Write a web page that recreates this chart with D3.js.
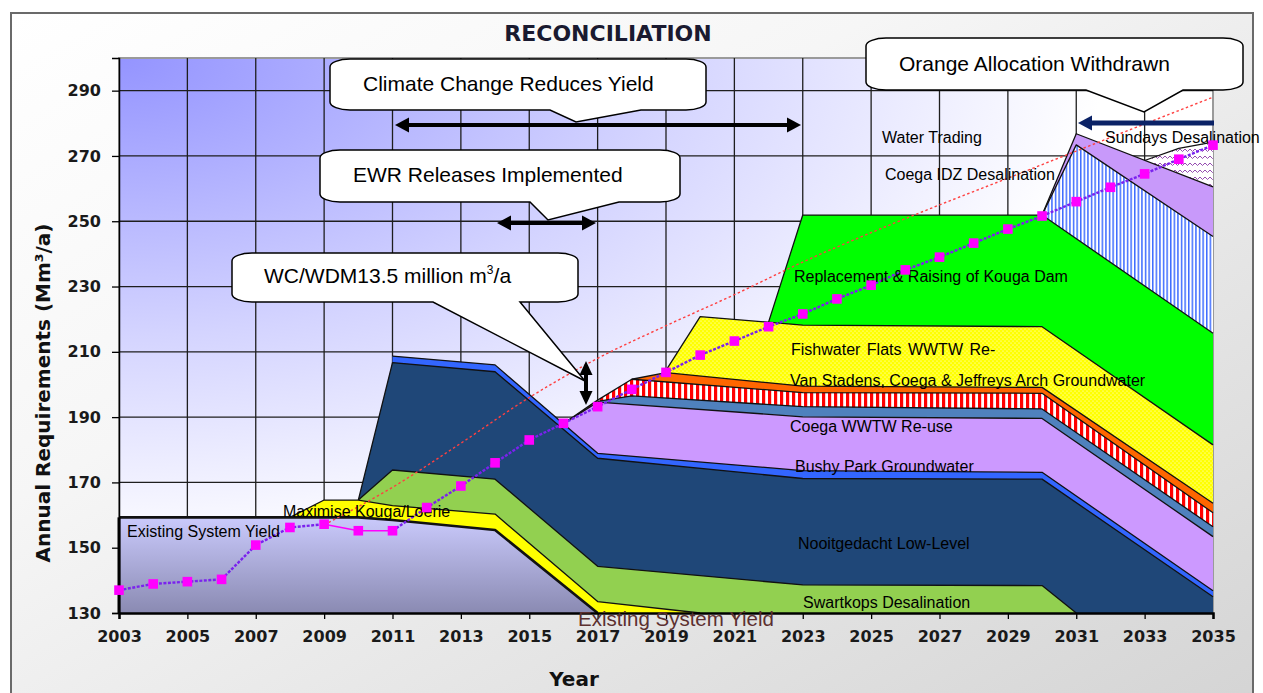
<!DOCTYPE html>
<html lang="en">
<head>
<meta charset="UTF-8">
<title>Reconciliation</title>
<script src="https://d3js.org/d3.v7.min.js"></script>
<style>
  body { margin: 0; background: #fff; }
  svg { display: block; }
  .axis text { font-family: "DejaVu Sans", Verdana, sans-serif; font-weight: bold; font-size: 16px; fill: #1a1a1a; }
  .axis path, .axis line { stroke: #000; }
  .lbl { font-family: "Liberation Sans", Arial, sans-serif; font-size: 16px; fill: #000; }
  .callout text { font-family: "Liberation Sans", Arial, sans-serif; font-size: 21px; fill: #000; }
</style>
</head>
<body>
<svg id="chart" width="1263" height="693"></svg>
<script>
    // tick labels
    const xTicks = [2003, 2005, 2007, 2009, 2011, 2013, 2015, 2017, 2019, 2021, 2023, 2025, 2027, 2029, 2031, 2033, 2035];
    const yTicks = [130, 150, 170, 190, 210, 230, 250, 270, 290];

    // water requirement (demand) projection
    const demandYears = [2003, 2004, 2005, 2006, 2007, 2008, 2009, 2010, 2011, 2012, 2013, 2014, 2015, 2016, 2017, 2018, 2019,
        2020, 2021, 2022, 2023, 2024, 2025, 2026, 2027, 2028, 2029, 2030, 2031, 2032, 2033, 2034, 2035];
    const demandValues = [137.0, 138.9, 139.6, 140.3, 150.8, 156.2, 157.2, 155.2, 155.2, 162.3, 168.9, 176.0, 183.0, 188.1, 193.2, 198.5, 203.7,
        209.0, 213.3, 217.7, 221.6, 226.2, 230.4, 235.1, 239.0, 243.3, 247.6, 251.6, 256.0, 260.4, 264.5, 269.0, 273.3];

    // unconstrained trend (red dotted)
    const trendYears = [2009, 2011, 2013, 2015, 2017, 2019, 2021, 2023, 2025, 2027, 2029, 2031, 2033, 2035];
    const trendValues = [157, 168.5, 182, 196, 208, 218, 227.5, 237.5, 246.5, 255, 263.2, 271.5, 279.8, 288];

    // supply layers: [year, cumulative top of layer]
    const existingYield = [[2003, 159.3], [2010, 159.3], [2011, 158.5], [2014, 155.4], [2017, 130]];
    const maximiseKouga = [[2008, 159.3], [2009, 164.6], [2010, 164.6], [2011, 162.9], [2014, 160.3], [2017, 133.5], [2020, 130]];
    const swartkopsDesal = [[2010, 164.6], [2011, 173.8], [2014, 171.0], [2017, 144.3], [2023, 138.6], [2030, 138.4], [2031, 130]];
    const nooitgedacht = [[2010, 164.6], [2011, 206.7], [2014, 203.9], [2017, 177.4], [2023, 171.2], [2030, 171.0], [2035, 135.0]];
    const bushyParkGw = [[2011, 208.7], [2014, 206.0], [2017, 178.9], [2023, 173.6], [2030, 173.1], [2035, 136.8]];
    const coegaWwtwReuse = [[2016, 188.0], [2017, 194.6], [2023, 190.1], [2030, 189.6], [2035, 153.4]];
    const steelBand = [[2017, 194.8], [2018, 196.5], [2023, 193.2], [2030, 192.5], [2035, 156.4]];
    const redStripeBand = [[2016, 188.0], [2017, 195.2], [2018, 201.6], [2023, 197.5], [2030, 197.3], [2035, 160.7]];
    const vanStadensGw = [[2018, 201.6], [2019, 203.6], [2023, 199.5], [2030, 199.1], [2035, 163.6]];
    const fishwaterFlats = [[2019, 204.3], [2020, 220.8], [2023, 218.2], [2030, 217.7], [2035, 181.5]];
    const kougaDamRaising = [[2022, 219.1], [2023, 251.9], [2030, 251.9], [2035, 215.7]];
    const coegaIdzDesal = [[2030, 251.9], [2031, 273.4], [2035, 245.3]];
    const waterTrading = [[2030, 251.9], [2031, 276.8], [2035, 260.5]];
    const sundaysDesal = [[2033, 268.6], [2034, 272.3], [2035, 274.2]];

    const margin = { top: 58, right: 50, bottom: 80, left: 119 },
        width = 1094,
        height = 555;

    const svg = d3.select("#chart");
    const defs = svg.append("defs");

    // backgrounds
    const outerGrad = defs.append("linearGradient").attr("id", "outerGrad")
        .attr("x1", 0).attr("y1", 0).attr("x2", 1).attr("y2", 1);
    outerGrad.append("stop").attr("offset", 0).attr("stop-color", "#ffffff");
    outerGrad.append("stop").attr("offset", 0.35).attr("stop-color", "#f6f6f6");
    outerGrad.append("stop").attr("offset", 1).attr("stop-color", "#d4d4d4");

    const plotGrad = defs.append("radialGradient").attr("id", "plotGrad")
        .attr("cx", 0).attr("cy", 0).attr("r", 1).attr("fx", 0).attr("fy", 0);
    plotGrad.append("stop").attr("offset", 0).attr("stop-color", "#9494ff");
    plotGrad.append("stop").attr("offset", 0.5).attr("stop-color", "#d4d4ff");
    plotGrad.append("stop").attr("offset", 0.9).attr("stop-color", "#ffffff");

    const existGrad = defs.append("linearGradient").attr("id", "existGrad")
        .attr("x1", 0).attr("y1", 0).attr("x2", 0).attr("y2", 1);
    existGrad.append("stop").attr("offset", 0).attr("stop-color", "#cacafc");
    existGrad.append("stop").attr("offset", 1).attr("stop-color", "#8a8ab2");

    // fill patterns
    const dots = defs.append("pattern").attr("id", "yellowDots").attr("patternUnits", "userSpaceOnUse")
        .attr("width", 4).attr("height", 4);
    dots.append("rect").attr("width", 4).attr("height", 4).attr("fill", "#ffff00");
    dots.append("circle").attr("cx", 1).attr("cy", 1).attr("r", 0.6).attr("fill", "#ffffff");
    dots.append("circle").attr("cx", 3).attr("cy", 3).attr("r", 0.6).attr("fill", "#ffffff");

    const redS = defs.append("pattern").attr("id", "redStripes").attr("patternUnits", "userSpaceOnUse")
        .attr("width", 6).attr("height", 10);
    redS.append("rect").attr("width", 6).attr("height", 10).attr("fill", "#ffffff");
    redS.append("rect").attr("width", 3.2).attr("height", 10).attr("fill", "#ff0000");

    const blueS = defs.append("pattern").attr("id", "blueStripes").attr("patternUnits", "userSpaceOnUse")
        .attr("width", 3.6).attr("height", 10);
    blueS.append("rect").attr("width", 3.6).attr("height", 10).attr("fill", "#ffffff");
    blueS.append("rect").attr("width", 1.5).attr("height", 10).attr("fill", "#3d6bff");

    const wavy = defs.append("pattern").attr("id", "wavy").attr("patternUnits", "userSpaceOnUse")
        .attr("width", 10).attr("height", 7);
    wavy.append("rect").attr("width", 10).attr("height", 7).attr("fill", "#ffffff");
    wavy.append("path").attr("d", "M0,2 L2.5,4.5 L5,2 L7.5,4.5 L10,2")
        .attr("fill", "none").attr("stroke", "#8a3aa8").attr("stroke-width", 0.9);

    svg.append("rect").attr("x", 11).attr("y", 13).attr("width", 1242).attr("height", 700)
        .attr("fill", "url(#outerGrad)").attr("stroke", "#6a6a6a").attr("stroke-width", 2);

    const x = d3.scaleLinear().domain([2003, 2035]).range([margin.left, margin.left + width]);
    const y = d3.scaleLinear().domain([130, 300]).range([margin.top + height, margin.top]);

    svg.append("rect").attr("x", margin.left).attr("y", margin.top)
        .attr("width", width).attr("height", height)
        .attr("fill", "url(#plotGrad)").attr("stroke", "#9a9a9a").attr("stroke-width", 2);

    // grid
    svg.append("g").selectAll("line").data(xTicks.filter(d => d > 2003 && d < 2035)).join("line")
        .attr("x1", d => x(d)).attr("x2", d => x(d))
        .attr("y1", margin.top).attr("y2", margin.top + height)
        .attr("stroke", "#1e1e1e").attr("stroke-width", 1.3);
    svg.append("g").selectAll("line").data(yTicks.filter(d => d > 130)).join("line")
        .attr("x1", margin.left).attr("x2", margin.left + width)
        .attr("y1", d => y(d)).attr("y2", d => y(d))
        .attr("stroke", "#1e1e1e").attr("stroke-width", 1.3);

    // stacked supply layers, painted from top layer down
    const layers = [
        { data: sundaysDesal, fill: "url(#wavy)" },
        { data: waterTrading, fill: "#c899fa" },
        { data: coegaIdzDesal, fill: "url(#blueStripes)" },
        { data: kougaDamRaising, fill: "#00ff00" },
        { data: fishwaterFlats, fill: "url(#yellowDots)" },
        { data: vanStadensGw, fill: "#ff6600" },
        { data: redStripeBand, fill: "url(#redStripes)" },
        { data: steelBand, fill: "#4f81bd" },
        { data: coegaWwtwReuse, fill: "#cc99ff" },
        { data: bushyParkGw, fill: "#3366ff" },
        { data: nooitgedacht, fill: "#1f4778" },
        { data: swartkopsDesal, fill: "#92d050" },
        { data: maximiseKouga, fill: "#ffff00" },
        { data: existingYield, fill: "url(#existGrad)", sw: 2.6 }
    ];

    const area = d3.area().x(d => x(d[0])).y0(y(130)).y1(d => y(d[1]));
    const topLine = d3.line().x(d => x(d[0])).y(d => y(d[1]));

    const layerG = svg.append("g");
    layers.forEach(l => {
        layerG.append("path").attr("d", area(l.data)).attr("fill", l.fill);
        layerG.append("path").attr("d", topLine(l.data)).attr("fill", "none")
            .attr("stroke", "#111").attr("stroke-width", l.sw || 1.3).attr("stroke-linejoin", "round");
    });
    // left edge of the existing yield block
    layerG.append("line")
        .attr("x1", x(2003)).attr("x2", x(2003))
        .attr("y1", y(130)).attr("y2", y(existingYield[0][1]))
        .attr("stroke", "#000").attr("stroke-width", 3);

    // axes
    const xAxis = d3.axisBottom(x).tickValues(xTicks).tickFormat(d3.format("d")).tickSize(6).tickPadding(12);
    const yAxis = d3.axisLeft(y).tickValues(yTicks).tickSize(7).tickPadding(11);

    svg.append("g").attr("class", "axis")
        .attr("transform", "translate(0," + (margin.top + height) + ")")
        .call(xAxis)
        .call(g => g.select(".domain").attr("stroke-width", 2.5))
        .call(g => g.selectAll(".tick line").attr("stroke-width", 1.3));

    svg.append("g").attr("class", "axis")
        .attr("transform", "translate(" + margin.left + ",0)")
        .call(yAxis)
        .call(g => g.select(".domain").attr("stroke-width", 1.5))
        .call(g => g.selectAll(".tick line").attr("stroke-width", 1.3));

    // red dotted trend
    svg.append("path")
        .datum(trendYears.map((d, i) => [d, trendValues[i]]))
        .attr("d", d3.line().curve(d3.curveMonotoneX).x(d => x(d[0])).y(d => y(d[1])))
        .attr("fill", "none").attr("stroke", "#ff4040").attr("stroke-width", 1.4)
        .attr("stroke-dasharray", "2.5,2.5");

    // demand line with markers
    const demand = demandYears.map((d, i) => [d, demandValues[i]]);
    const demandLine = d3.line().x(d => x(d[0])).y(d => y(d[1]));
    const i2009 = demandYears.indexOf(2009), i2011 = demandYears.indexOf(2011);
    svg.append("path").attr("d", demandLine(demand.slice(0, i2009 + 1)))
        .attr("fill", "none").attr("stroke", "#7a22ee").attr("stroke-width", 2.4).attr("stroke-dasharray", "3,1.5");
    svg.append("path").attr("d", demandLine(demand.slice(i2009, i2011 + 1)))
        .attr("fill", "none").attr("stroke", "#ff00ff").attr("stroke-width", 1.4);
    svg.append("path").attr("d", demandLine(demand.slice(i2011)))
        .attr("fill", "none").attr("stroke", "#7a22ee").attr("stroke-width", 2.4).attr("stroke-dasharray", "3,1.5");

    // layer labels
    const labels = [
        ["Existing System Yield", 127, 537],
        ["Maximise Kouga/Loerie", 283, 517],
        ["Replacement & Raising of Kouga Dam", 794, 282],
        ["Fishwater Flats WWTW Re-", 791, 355],
        ["Van Stadens, Coega & Jeffreys Arch Groundwater", 790, 386],
        ["Coega WWTW Re-use", 790, 432],
        ["Bushy Park Groundwater", 795, 472],
        ["Nooitgedacht Low-Level", 798, 549],
        ["Swartkops Desalination", 803, 608],
        ["Water Trading", 882, 143],
        ["Coega IDZ Desalination", 885, 180],
        ["Sundays Desalination", 1105, 143]
    ];
    svg.append("g").selectAll("text").data(labels).join("text")
        .attr("class", "lbl")
        .attr("x", d => d[1]).attr("y", d => d[2])
        .style("word-spacing", d => d[0].startsWith("Fishwater") ? "2px" : null)
        .text(d => d[0]);

    svg.append("g").selectAll("rect").data(demand).join("rect")
        .attr("x", d => x(d[0]) - 4.8).attr("y", d => y(d[1]) - 4.8)
        .attr("width", 9.6).attr("height", 9.6).attr("fill", "#ff00ff");

    // callouts
    function callout(x0, y0, x1, y1, b1, b2, tx, ty) {
        const rx = 20, ry = 8;
        return `M${x0 + rx},${y0} L${x1 - rx},${y0} A${rx},${ry} 0 0 1 ${x1},${y0 + ry} L${x1},${y1 - ry} ` +
            `A${rx},${ry} 0 0 1 ${x1 - rx},${y1} L${b2},${y1} L${tx},${ty} L${b1},${y1} L${x0 + rx},${y1} ` +
            `A${rx},${ry} 0 0 1 ${x0},${y1 - ry} L${x0},${y0 + ry} A${rx},${ry} 0 0 1 ${x0 + rx},${y0} Z`;
    }
    const calloutG = svg.append("g").attr("class", "callout");
    const boxes = [
        [330, 59, 706, 110, 550, 641, 576, 122],
        [320, 150, 680, 202, 530, 619, 548, 220],
        [232, 253, 578, 302, 433, 520, 585, 381],
        [866, 38, 1243, 90, 1086, 1183, 1144, 112]
    ];
    boxes.forEach(b => {
        calloutG.append("path").attr("d", callout(...b))
            .attr("fill", "#fff").attr("stroke", "#000").attr("stroke-width", 1.5);
    });
    calloutG.append("text").attr("x", 363).attr("y", 91).text("Climate Change Reduces Yield");
    calloutG.append("text").attr("x", 353).attr("y", 182).text("EWR Releases Implemented");
    const wc = calloutG.append("text").attr("x", 264).attr("y", 283);
    wc.append("tspan").text("WC/WDM13.5 million m");
    wc.append("tspan").attr("dy", -9).style("font-size", "12px").text("3");
    wc.append("tspan").attr("dy", 9).text("/a");
    calloutG.append("text").attr("x", 899).attr("y", 71).text("Orange Allocation Withdrawn");

    // arrows
    function hArrow(x0, x1, yy, color, both, w) {
        const g = svg.append("g");
        const h = 14, hw = 7.5;
        g.append("line").attr("x1", x0 + h - 2).attr("x2", both ? x1 - h + 2 : x1)
            .attr("y1", yy).attr("y2", yy).attr("stroke", color).attr("stroke-width", w);
        g.append("path").attr("d", `M${x0},${yy} L${x0 + h},${yy - hw} L${x0 + h},${yy + hw} Z`).attr("fill", color);
        if (both) g.append("path").attr("d", `M${x1},${yy} L${x1 - h},${yy - hw} L${x1 - h},${yy + hw} Z`).attr("fill", color);
    }
    hArrow(395, 801, 125, "#000", true, 4);
    hArrow(497, 596, 223, "#000", true, 4);
    hArrow(1078, 1214, 123, "#0b2266", false, 5);

    const vx = 586, vy0 = 361, vy1 = 405;
    svg.append("line").attr("x1", vx).attr("x2", vx).attr("y1", vy0 + 12).attr("y2", vy1 - 12)
        .attr("stroke", "#000").attr("stroke-width", 4);
    svg.append("path").attr("d", `M${vx},${vy0} L${vx - 6.5},${vy0 + 14} L${vx + 6.5},${vy0 + 14} Z`).attr("fill", "#000");
    svg.append("path").attr("d", `M${vx},${vy1} L${vx - 6.5},${vy1 - 14} L${vx + 6.5},${vy1 - 14} Z`).attr("fill", "#000");

    // titles
    svg.append("text")
        .attr("x", 608).attr("y", 41)
        .style("text-anchor", "middle")
        .style("font-family", "'DejaVu Sans', Verdana, sans-serif")
        .style("font-weight", "bold").style("font-size", "22px").style("fill", "#1a1a30")
        .text("RECONCILIATION");

    svg.append("text")
        .attr("transform", "translate(50,393) rotate(-90)")
        .style("text-anchor", "middle")
        .style("font-family", "'DejaVu Sans', Verdana, sans-serif")
        .style("font-weight", "bold").style("font-size", "20px").style("fill", "#111")
        .text("Annual Requirements (Mm³/a)");

    svg.append("text")
        .attr("x", 574).attr("y", 686)
        .style("text-anchor", "middle")
        .style("font-family", "'DejaVu Sans', Verdana, sans-serif")
        .style("font-weight", "bold").style("font-size", "20px").style("fill", "#111")
        .text("Year");

    svg.append("text")
        .attr("x", 578).attr("y", 626)
        .style("font-family", "'Liberation Sans', Arial, sans-serif")
        .style("font-size", "20.5px").style("fill", "#5c3030")
        .text("Existing System Yield");
</script>
</body>
</html>
